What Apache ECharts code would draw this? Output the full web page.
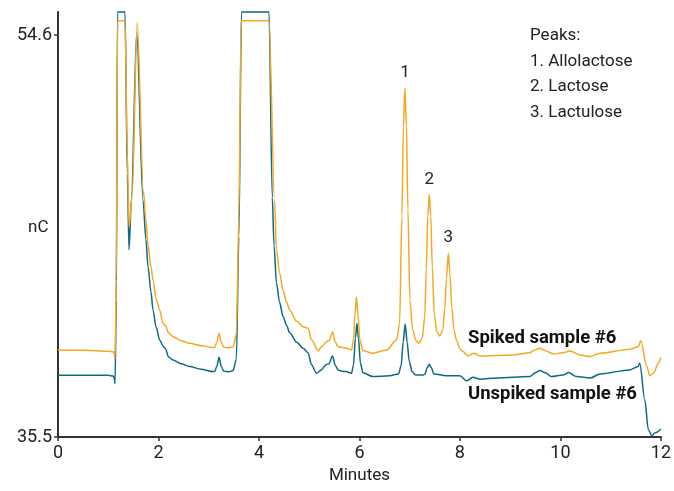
<!DOCTYPE html>
<html>
<head>
<meta charset="utf-8">
<script src="https://cdn.jsdelivr.net/npm/echarts@6/dist/echarts.min.js"></script>
<style>
html,body{margin:0;padding:0;background:#fff;}
#chart{width:674px;height:491px;}
</style>
</head>
<body>
<div id="chart"></div>
<script>
// ---- Data (minutes, nC) ----
var unspikedTime = [0, 0.5, 1.0, 1.10, 1.12, 1.135, 1.16, 1.185, 1.334, 1.38, 1.414, 1.46, 1.567, 1.693, 1.75, 1.792, 1.85, 1.892, 1.95, 2.025, 2.091, 2.14, 2.2, 2.29, 2.45, 2.62, 2.85, 3.086, 3.12, 3.16, 3.206, 3.25, 3.30, 3.40, 3.485, 3.55, 3.60, 3.652, 4.2, 4.265, 4.30, 4.349, 4.41, 4.48, 4.55, 4.614, 4.75, 4.879, 4.978, 5.046, 5.145, 5.25, 5.30, 5.344, 5.39, 5.464, 5.52, 5.575, 5.65, 5.743, 5.80, 5.842, 5.88, 5.92, 5.95, 5.98, 6.02, 6.07, 6.27, 6.6, 6.78, 6.83, 6.87, 6.91, 6.95, 6.99, 7.05, 7.12, 7.27, 7.30, 7.35, 7.39, 7.43, 7.48, 7.73, 8.0, 8.13, 8.26, 8.4, 8.73, 9.39, 9.5, 9.59, 9.7, 9.82, 10.05, 10.16, 10.32, 10.59, 10.79, 11.38, 11.55, 11.58, 11.68, 11.75, 11.82, 11.88, 12.0];
var unspikedValue = [38.44, 38.44, 38.43, 38.40, 38.30, 38.03, 42.0, 55.7, 55.7, 48.0, 44.4, 46.75, 54.72, 46.75, 44.9, 43.59, 42.4, 41.53, 40.75, 40.11, 39.82, 39.70, 39.30, 39.16, 38.98, 38.85, 38.72, 38.61, 38.62, 38.85, 39.29, 38.85, 38.62, 38.60, 38.66, 39.2, 45.0, 55.7, 55.7, 46.9, 44.6, 42.81, 41.9, 41.22, 40.8, 40.44, 40.0, 39.72, 39.51, 38.93, 38.53, 38.7, 38.85, 38.95, 38.98, 39.35, 38.9, 38.69, 38.62, 38.61, 38.55, 38.53, 38.9, 40.2, 40.9, 40.2, 39.0, 38.55, 38.37, 38.41, 38.5, 38.9, 40.0, 40.87, 40.0, 39.1, 38.6, 38.45, 38.45, 38.48, 38.8, 38.96, 38.8, 38.5, 38.41, 38.41, 38.17, 38.34, 38.25, 38.30, 38.37, 38.55, 38.66, 38.55, 38.37, 38.45, 38.56, 38.37, 38.30, 38.50, 38.69, 38.85, 39.01, 37.27, 35.85, 35.56, 35.69, 35.88];

var spikedTime = [0, 0.5, 1.0, 1.10, 1.12, 1.135, 1.16, 1.185, 1.334, 1.38, 1.414, 1.474, 1.577, 1.70, 1.75, 1.792, 1.85, 1.892, 1.95, 2.025, 2.091, 2.14, 2.2, 2.29, 2.45, 2.62, 2.85, 3.086, 3.12, 3.16, 3.206, 3.25, 3.30, 3.40, 3.485, 3.55, 3.60, 3.645, 4.2, 4.31, 4.349, 4.41, 4.48, 4.55, 4.614, 4.75, 4.879, 4.978, 5.046, 5.18, 5.25, 5.344, 5.40, 5.464, 5.52, 5.575, 5.743, 5.842, 5.88, 5.91, 5.94, 5.97, 6.01, 6.07, 6.27, 6.54, 6.74, 6.80, 6.845, 6.875, 6.905, 6.935, 6.965, 7.005, 7.06, 7.12, 7.19, 7.25, 7.30, 7.33, 7.36, 7.39, 7.42, 7.45, 7.49, 7.54, 7.60, 7.66, 7.70, 7.73, 7.77, 7.80, 7.84, 7.88, 7.93, 8.0, 8.06, 8.16, 8.28, 8.4, 9.06, 9.39, 9.5, 9.59, 9.7, 9.86, 10.05, 10.19, 10.39, 10.59, 10.79, 11.38, 11.55, 11.6, 11.72, 11.78, 11.85, 11.95, 12.0];
var spikedValue = [39.64, 39.62, 39.58, 39.55, 39.45, 39.2, 43.0, 55.28, 55.28, 49.0, 45.48, 46.9, 55.2, 47.2, 45.8, 44.6, 43.6, 42.96, 42.1, 41.53, 40.9, 40.8, 40.45, 40.27, 40.08, 39.95, 39.84, 39.75, 39.77, 40.0, 40.43, 40.0, 39.76, 39.74, 39.79, 40.4, 46.0, 55.28, 55.28, 46.75, 44.38, 43.3, 42.48, 41.9, 41.53, 41.0, 40.74, 40.67, 40.11, 39.6, 39.8, 40.03, 40.1, 40.5, 40.0, 39.79, 39.72, 39.64, 40.1, 41.3, 42.16, 41.3, 40.1, 39.6, 39.48, 39.64, 40.11, 40.9, 46.0, 50.2, 52.09, 50.3, 46.3, 42.0, 40.6, 40.1, 39.95, 40.2, 41.2, 43.5, 46.0, 47.03, 46.0, 43.6, 41.3, 40.5, 40.3, 40.6, 41.6, 43.0, 44.25, 43.3, 41.6, 40.6, 40.11, 39.7, 39.56, 39.35, 39.48, 39.35, 39.4, 39.51, 39.65, 39.72, 39.6, 39.45, 39.5, 39.59, 39.4, 39.32, 39.48, 39.67, 39.79, 40.08, 38.85, 38.41, 38.53, 39.01, 39.29];

var yTickValues = [35.5, 54.6];
var peakLabels = ['1', '2', '3'];
var peakTimes = [6.905, 7.39, 7.77];
var peakValues = [52.09, 47.03, 44.25];
var legendLines = ['Peaks:', '1. Allolactose', '2. Lactose', '3. Lactulose'];
var seriesNames = ['Spiked sample #6', 'Unspiked sample #6'];

function zip(t, v) { return t.map(function (x, i) { return [x, v[i]]; }); }

var FONT = "'Roboto', 'Liberation Sans', sans-serif";
var TXT = '#222';
var ORANGE = '#F5A922';
var TEAL = '#0A6B82';

var chart = echarts.init(document.getElementById('chart'));
var option = {
  animation: false,
  backgroundColor: '#fff',
  grid: { left: 58, right: 13, top: 12, bottom: 54, containLabel: false },
  xAxis: {
    type: 'value', min: 0, max: 12, interval: 2,
    name: 'Minutes', nameLocation: 'middle', nameGap: 30,
    nameTextStyle: { fontFamily: FONT, fontSize: 17, color: TXT },
    axisLine: { show: true, onZero: false, lineStyle: { color: '#333', width: 2 } },
    axisTick: { show: true, length: 4, lineStyle: { color: '#333', width: 1.5 } },
    axisLabel: { fontFamily: FONT, fontSize: 18, color: TXT, margin: 7 },
    splitLine: { show: false }
  },
  yAxis: {
    type: 'value', min: 35.5, max: 55.7,
    axisLine: { show: true, lineStyle: { color: '#333', width: 2 } },
    axisTick: { show: true, length: 4, customValues: yTickValues, lineStyle: { color: '#333', width: 1.5 } },
    axisLabel: { fontFamily: FONT, fontSize: 18, color: TXT, margin: 6, customValues: yTickValues,
      formatter: function (v) { return v.toFixed(1); } },
    splitLine: { show: false }
  },
  series: [
    { name: seriesNames[1], type: 'line', data: zip(unspikedTime, unspikedValue), showSymbol: false, clip: false,
      smooth: 0.3, smoothMonotone: 'x',
      lineStyle: { color: TEAL, width: 1.5 }, z: 2 },
    { name: seriesNames[0], type: 'line', data: zip(spikedTime, spikedValue), showSymbol: false, clip: false,
      smooth: 0.3, smoothMonotone: 'x',
      lineStyle: { color: ORANGE, width: 1.5 }, z: 3 }
  ]
};
chart.setOption(option);

var graphics = [];
graphics.push({ type: 'text', left: 28, top: 219, style: { text: 'nC', font: '17px ' + FONT, fill: TXT } });
legendLines.forEach(function (s, i) {
  graphics.push({ type: 'text', x: 530, y: 36 + i * 25.5, style: { text: s, font: '17px ' + FONT, fill: TXT, textVerticalAlign: 'middle' } });
});
graphics.push({ type: 'text', x: 468, y: 338, style: { text: seriesNames[0], font: 'bold 18.5px ' + FONT, fill: '#111', textVerticalAlign: 'middle' } });
graphics.push({ type: 'text', x: 468, y: 394, style: { text: seriesNames[1], font: 'bold 18.5px ' + FONT, fill: '#111', textVerticalAlign: 'middle' } });
peakLabels.forEach(function (s, i) {
  var p = chart.convertToPixel({ gridIndex: 0 }, [peakTimes[i], peakValues[i]]);
  graphics.push({ type: 'text', x: p[0], y: p[1] - 15, style: { text: s, font: '17px ' + FONT, fill: TXT, textAlign: 'center', textVerticalAlign: 'middle' } });
});
chart.setOption({ graphic: graphics });
</script>
</body>
</html>
